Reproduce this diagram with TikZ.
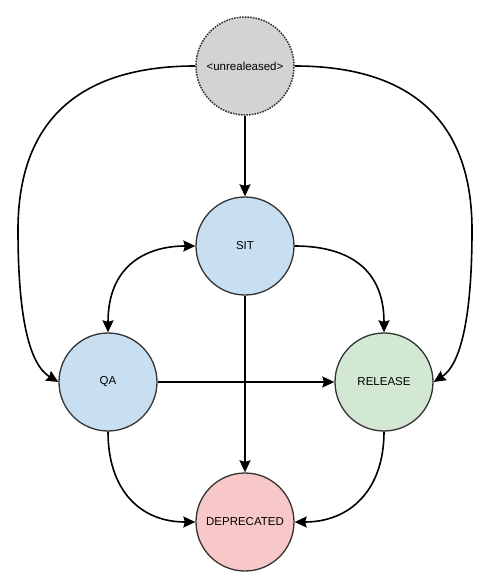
\documentclass[tikz,border=0pt]{standalone}
\usepackage{fontspec}
\setmainfont{Liberation Sans}
\usetikzlibrary{arrows.meta}
\definecolor{ink}{HTML}{000000}
\definecolor{rim}{HTML}{333333}
\definecolor{pendfill}{HTML}{D3D3D3}
\definecolor{testfill}{HTML}{C8DEF1}
\definecolor{livefill}{HTML}{D3E8D2}
\definecolor{deadfill}{HTML}{F8C8C8}

\begin{document}
\begin{tikzpicture}[
  x=1pt, y=-1pt,
  font=\fontsize{11.5}{13}\selectfont,
  >={Stealth[length=12pt, width=11pt, inset=1.5pt]},
  state/.style={circle, draw=rim, line width=1.3pt, minimum size=98pt,
    inner sep=0pt, text=ink},
  pending/.style={state, fill=pendfill, draw=ink!80, line width=1.5pt,
    dash pattern=on 1.6pt off 1.1pt},
  testing/.style={state, fill=testfill},
  live/.style={state, fill=livefill},
  dead/.style={state, fill=deadfill},
  flow/.style={->, draw=ink, line width=1.6pt},
  bothflow/.style={<->, draw=ink, line width=1.6pt}
]
\useasboundingbox (0,0) rectangle (490,580);

\node[pending] (unrel) at (245,66) {<unrealeased>};
\node[testing] (sit) at (245,246) {SIT};
\node[testing] (qa) at (108,382) {QA};
\node[live] (rel) at (384,382) {RELEASE};
\node[dead] (depr) at (245,522) {DEPRECATED};

\draw[flow] (unrel.south) -- (sit.north);
\draw[flow] (sit.south) -- (depr.north);
\draw[flow] (qa.east) -- (rel.west);

\draw[bothflow] (sit.west) .. controls (148,246) and (108,264) .. (qa.north);
\draw[flow] (sit.east) .. controls (342,246) and (384,264) .. (rel.north);
\draw[flow] (qa.south) .. controls (108,490) and (140,522) .. (depr.west);
\draw[flow] (rel.south) .. controls (384,490) and (350,522) .. (depr.east);

\draw[flow] (unrel.west) .. controls (80,66) and (18,120) .. (18,230)
  .. controls (18,320) and (30,365) .. (qa.west);
\draw[flow] (unrel.east) .. controls (410,66) and (472,120) .. (472,230)
  .. controls (472,320) and (460,365) .. (rel.east);
\end{tikzpicture}
\end{document}
